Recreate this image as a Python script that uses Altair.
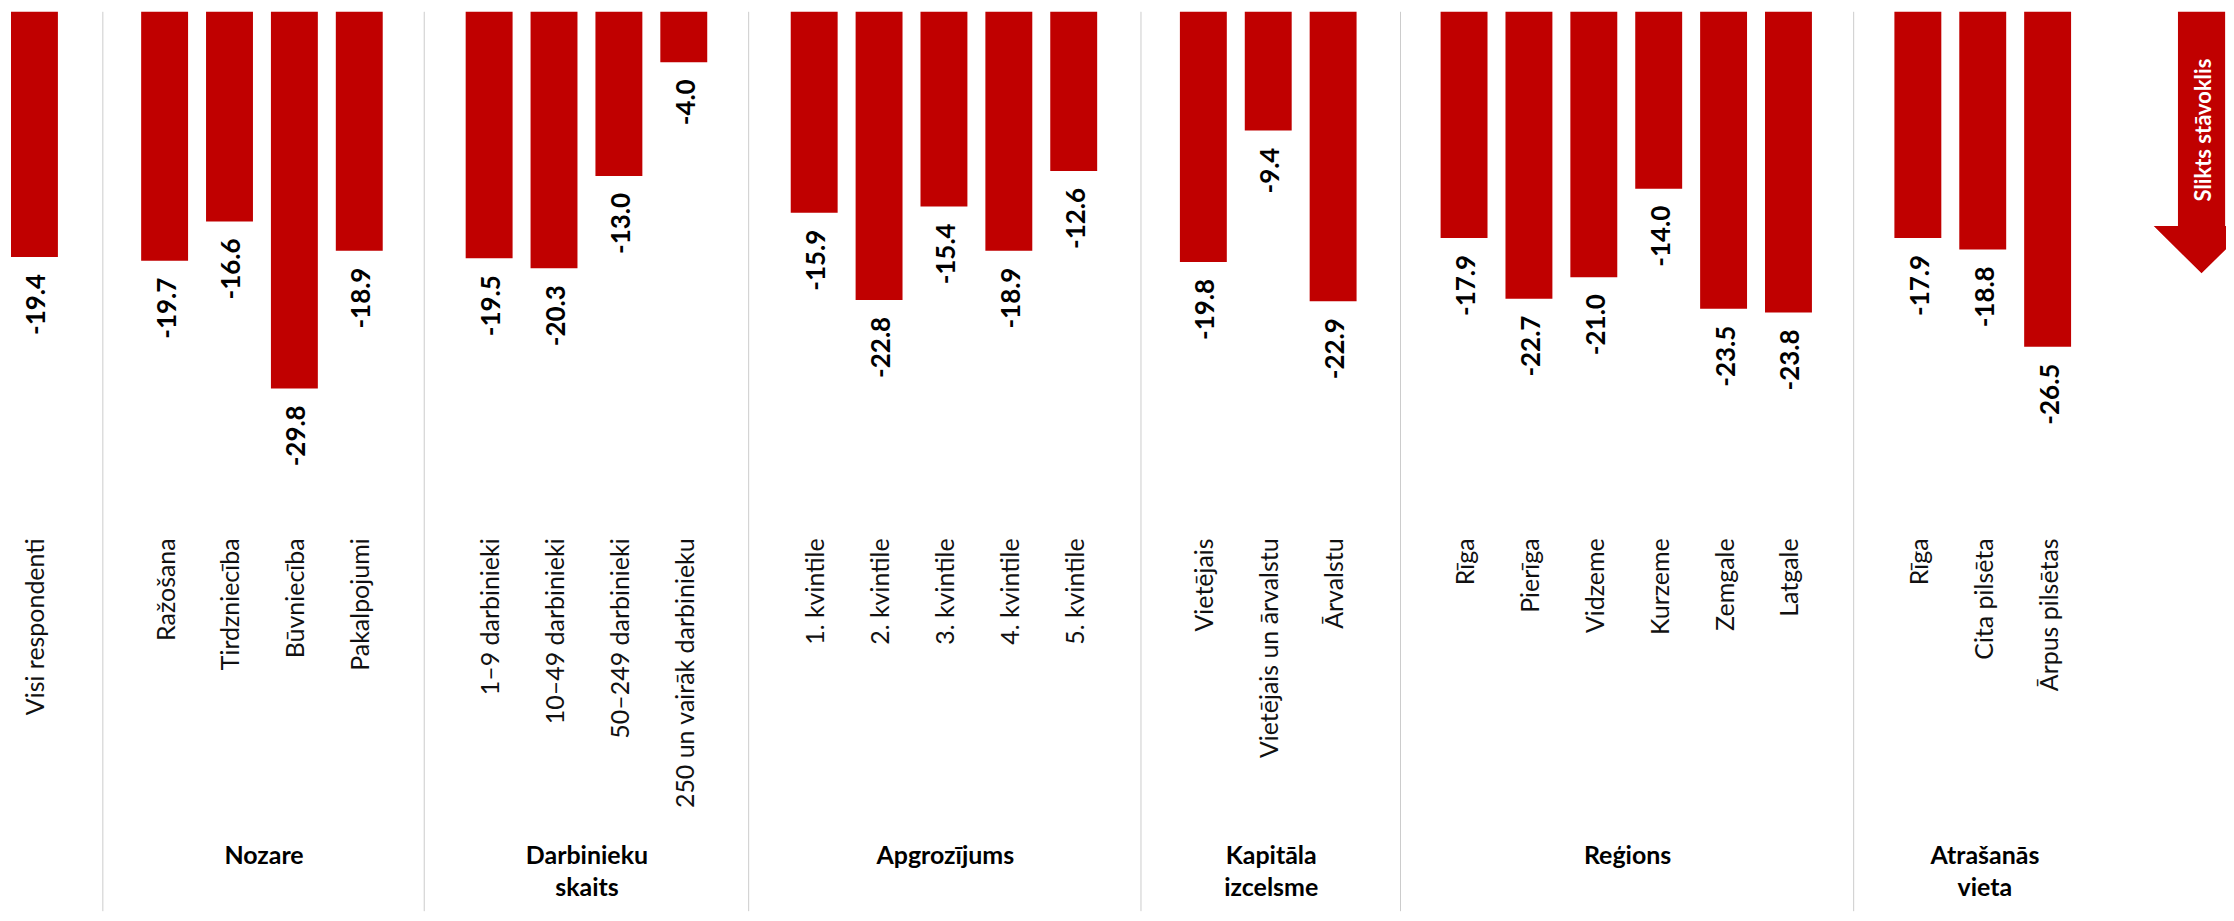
import altair as alt
import pandas as pd

# ---------------- data ----------------
cat_all = ["Visi respondenti"]
val_all = [-19.4]

cat_nozare = ["Ražošana", "Tirdzniecība", "Būvniecība", "Pakalpojumi"]
val_nozare = [-19.7, -16.6, -29.8, -18.9]

cat_darb = ["1–9 darbinieki", "10–49 darbinieki", "50–249 darbinieki", "250 un vairāk darbinieku"]
val_darb = [-19.5, -20.3, -13.0, -4.0]

cat_apgr = ["1. kvintile", "2. kvintile", "3. kvintile", "4. kvintile", "5. kvintile"]
val_apgr = [-15.9, -22.8, -15.4, -18.9, -12.6]

cat_kap = ["Vietējais", "Vietējais un ārvalstu", "Ārvalstu"]
val_kap = [-19.8, -9.4, -22.9]

cat_reg = ["Rīga", "Pierīga", "Vidzeme", "Kurzeme", "Zemgale", "Latgale"]
val_reg = [-17.9, -22.7, -21.0, -14.0, -23.5, -23.8]

cat_atr = ["Rīga", "Cita pilsēta", "Ārpus pilsētas"]
val_atr = [-17.9, -18.8, -26.5]

title_all = None
title_nozare = ["Nozare"]
title_darb = ["Darbinieku", "skaits"]
title_apgr = ["Apgrozījums"]
title_kap = ["Kapitāla", "izcelsme"]
title_reg = ["Reģions"]
title_atr = ["Atrašanās", "vieta"]

arrow_text = ["Slikts stāvoklis"]

# ---------------- style ----------------
RED = "#C00000"
GRID = "#cccccc"
FONT = "Lato"
STEP = 65.0
PI = 18.0 / 65.0
H = 520
PX_PER_UNIT = 12.66
Y_MIN = -H / PX_PER_UNIT


def panel(cats, vals, title, width, align, divider=True):
    df = pd.DataFrame({"cat": cats, "val": vals,
                       "label": [f"{v:.1f}" for v in vals]})
    n = len(cats)
    po = (width / STEP - n + PI) / 2.0
    axis_kw = dict(labelAngle=-90, domain=False, ticks=False,
                   labelFont=FONT, labelFontSize=25, labelFontWeight=400,
                   labelColor="#111111", labelPadding=7, labelLimit=500,
                   labelOffset=2,
                   titleFont=FONT, titleFontSize=25, titleFontWeight="bold",
                   titleColor="#000000", titleY=313, titleBaseline="top",
                   titleLineHeight=32)
    if title is None:
        axis = alt.Axis(title=None, **axis_kw)
    else:
        axis = alt.Axis(title=title, **axis_kw)
    x = alt.X("cat:N", sort=cats,
              scale=alt.Scale(paddingInner=PI, paddingOuter=po, align=align),
              axis=axis)
    y = alt.Y("val:Q", scale=alt.Scale(domain=[Y_MIN, 0], nice=False, zero=True),
              axis=None)
    bars = alt.Chart(df).mark_bar(color=RED).encode(x=x, y=y)
    texts = alt.Chart(df).mark_text(
        angle=270, align="right", baseline="middle", dx=-17, dy=3,
        font=FONT, fontSize=26, fontWeight="bold", color="#000000"
    ).encode(x=x, y=y, text="label:N")
    layers = [bars, texts]
    if divider:
        rule = alt.Chart(df.iloc[:1]).mark_rule(color=GRID, strokeWidth=1).encode(
            x=alt.value(0), y=alt.value(0), y2=alt.value(901))
        layers = [rule] + layers
    return alt.layer(*layers).properties(width=width, height=H)


p1 = panel(cat_all, val_all, title_all, 95, 0.0625, divider=False)
p2 = panel(cat_nozare, val_nozare, title_nozare, 322, 0.48)
p3 = panel(cat_darb, val_darb, title_darb, 325, 0.5)
p4 = panel(cat_apgr, val_apgr, title_apgr, 393, 0.49)
p5 = panel(cat_kap, val_kap, title_kap, 260, 0.47)
p6 = panel(cat_reg, val_reg, title_reg, 454, 0.49)
p7 = panel(cat_atr, val_atr, title_atr, 262, 0.48)

arrow_df = pd.DataFrame({"label": arrow_text})
arrow_shape = ("M -0.179 -1 L 0.179 -1 L 0.179 0.641 L 0.363 0.641 "
               "L 0 1 L -0.363 0.641 L -0.179 0.641 Z")
arrow = alt.Chart(arrow_df).mark_point(
    shape=arrow_shape, filled=True, color=RED, opacity=1, size=264 * 264,
    strokeWidth=0, clip=True
).encode(x=alt.value(86.5), y=alt.value(130))
arrow_lbl = alt.Chart(arrow_df).mark_text(
    angle=270, align="center", baseline="middle", color="#ffffff",
    font=FONT, fontSize=22, fontWeight="bold"
).encode(x=alt.value(89), y=alt.value(118.5), text="label:N")
p8 = alt.layer(arrow, arrow_lbl).properties(width=111, height=H)

chart = alt.hconcat(p1, p2, p3, p4, p5, p6, p7, p8, spacing=0, bounds="flush").properties(
    padding={"left": 0, "top": 2, "right": 0, "bottom": 0}
).configure_view(strokeWidth=0)

chart.save("out.html", embed_options={"renderer": "svg", "actions": False})
